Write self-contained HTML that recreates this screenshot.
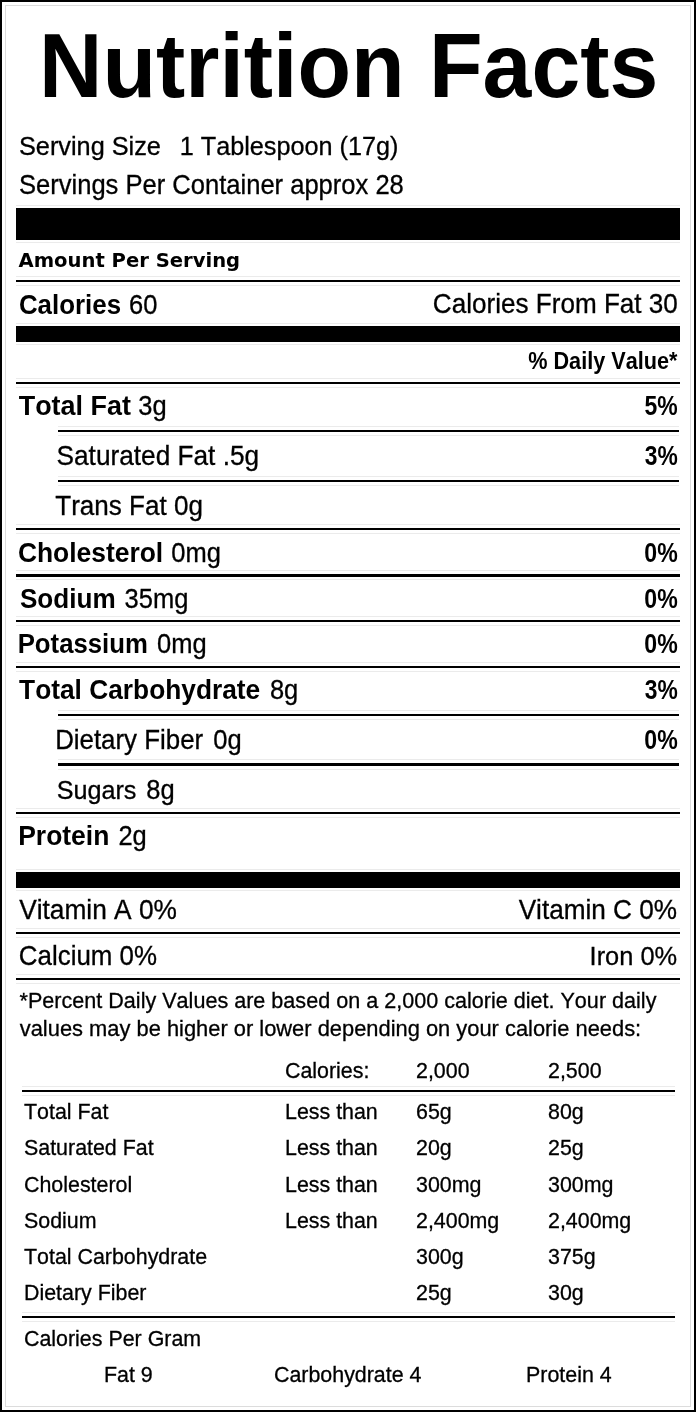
<!DOCTYPE html><html><head><meta charset="utf-8"><title>Nutrition Facts</title><style>
html,body{margin:0;padding:0;background:#fff}
#l{position:relative;width:700px;height:1412px;overflow:hidden;background:#fff;color:#000;font-family:"Liberation Sans", Arial, Helvetica, sans-serif}
#l div{position:absolute;white-space:pre;line-height:1;font-kerning:none;-webkit-text-stroke:0.3px #000}
#l div.b{font-weight:bold;-webkit-text-stroke:0}
#l div.v{font-family:"DejaVu Sans", Verdana, sans-serif}
#l i{position:absolute;display:block}
</style></head><body><div id="l">
<i style="left:5px;top:5px;width:686px;height:1px;background:#dcdcdc"></i>
<i style="left:5px;top:5px;width:1px;height:1402px;background:#dcdcdc"></i>
<i style="left:690px;top:5px;width:1px;height:1402px;background:#dcdcdc"></i>
<i style="left:5px;top:1406px;width:686px;height:1px;background:#dcdcdc"></i>
<i style="left:15.8px;top:276px;width:664.2px;height:1px;background:#ebebeb"></i>
<i style="left:15.8px;top:285.2px;width:664.2px;height:1px;background:#ebebeb"></i>
<i style="left:15.8px;top:378px;width:664.2px;height:1px;background:#ebebeb"></i>
<i style="left:15.8px;top:387.2px;width:664.2px;height:1px;background:#ebebeb"></i>
<i style="left:15.8px;top:523.9px;width:664.2px;height:1px;background:#ebebeb"></i>
<i style="left:15.8px;top:533.1px;width:664.2px;height:1px;background:#ebebeb"></i>
<i style="left:15.8px;top:570.2px;width:664.2px;height:1px;background:#ebebeb"></i>
<i style="left:15.8px;top:579.4px;width:664.2px;height:1px;background:#ebebeb"></i>
<i style="left:15.8px;top:615.8px;width:664.2px;height:1px;background:#ebebeb"></i>
<i style="left:15.8px;top:625px;width:664.2px;height:1px;background:#ebebeb"></i>
<i style="left:15.8px;top:662px;width:664.2px;height:1px;background:#ebebeb"></i>
<i style="left:15.8px;top:671.2px;width:664.2px;height:1px;background:#ebebeb"></i>
<i style="left:15.8px;top:807.9px;width:664.2px;height:1px;background:#ebebeb"></i>
<i style="left:15.8px;top:817.1px;width:664.2px;height:1px;background:#ebebeb"></i>
<i style="left:15.8px;top:927.9px;width:664.2px;height:1px;background:#ebebeb"></i>
<i style="left:15.8px;top:937.1px;width:664.2px;height:1px;background:#ebebeb"></i>
<i style="left:15.8px;top:974px;width:664.2px;height:1px;background:#ebebeb"></i>
<i style="left:15.8px;top:983.2px;width:664.2px;height:1px;background:#ebebeb"></i>
<i style="left:57.5px;top:425.9px;width:621.5px;height:1px;background:#ebebeb"></i>
<i style="left:57.5px;top:435.1px;width:621.5px;height:1px;background:#ebebeb"></i>
<i style="left:57.5px;top:475.9px;width:621.5px;height:1px;background:#ebebeb"></i>
<i style="left:57.5px;top:485.1px;width:621.5px;height:1px;background:#ebebeb"></i>
<i style="left:57.5px;top:709.9px;width:621.5px;height:1px;background:#ebebeb"></i>
<i style="left:57.5px;top:719.1px;width:621.5px;height:1px;background:#ebebeb"></i>
<i style="left:57.5px;top:759.4px;width:621.5px;height:1px;background:#ebebeb"></i>
<i style="left:57.5px;top:768.6px;width:621.5px;height:1px;background:#ebebeb"></i>
<i style="left:21.5px;top:1086.3px;width:653.7px;height:1px;background:#ebebeb"></i>
<i style="left:21.5px;top:1094.5px;width:653.7px;height:1px;background:#ebebeb"></i>
<i style="left:21.5px;top:1312.4px;width:653.7px;height:1px;background:#ebebeb"></i>
<i style="left:21.5px;top:1320.6px;width:653.7px;height:1px;background:#ebebeb"></i>
<i style="left:15.8px;top:204.9px;width:664.2px;height:1px;background:#ebebeb"></i>
<i style="left:15.8px;top:242.2px;width:664.2px;height:1px;background:#ebebeb"></i>
<i style="left:15.8px;top:323px;width:664.2px;height:1px;background:#ebebeb"></i>
<i style="left:15.8px;top:344.4px;width:664.2px;height:1px;background:#ebebeb"></i>
<i style="left:15.8px;top:869.1px;width:664.2px;height:1px;background:#ebebeb"></i>
<i style="left:15.8px;top:890.4px;width:664.2px;height:1px;background:#ebebeb"></i>
<i style="left:0px;top:0px;width:696px;height:2px;background:#000"></i>
<i style="left:0px;top:0px;width:2px;height:1412px;background:#000"></i>
<i style="left:694px;top:0px;width:2px;height:1412px;background:#000"></i>
<i style="left:0px;top:1409.7px;width:696px;height:2.3px;background:#000"></i>
<i style="left:15.8px;top:207.9px;width:664.2px;height:31.8px;background:#000"></i>
<i style="left:15.8px;top:326px;width:664.2px;height:15.9px;background:#000"></i>
<i style="left:15.8px;top:872.1px;width:664.2px;height:15.8px;background:#000"></i>
<i style="left:15.8px;top:279.7px;width:664.2px;height:2.8px;background:#000"></i>
<i style="left:15.8px;top:381.7px;width:664.2px;height:2.8px;background:#000"></i>
<i style="left:15.8px;top:527.6px;width:664.2px;height:2.8px;background:#000"></i>
<i style="left:15.8px;top:573.9px;width:664.2px;height:2.8px;background:#000"></i>
<i style="left:15.8px;top:619.5px;width:664.2px;height:2.8px;background:#000"></i>
<i style="left:15.8px;top:665.7px;width:664.2px;height:2.8px;background:#000"></i>
<i style="left:15.8px;top:811.6px;width:664.2px;height:2.8px;background:#000"></i>
<i style="left:15.8px;top:931.6px;width:664.2px;height:2.8px;background:#000"></i>
<i style="left:15.8px;top:977.7px;width:664.2px;height:2.8px;background:#000"></i>
<i style="left:57.5px;top:429.6px;width:621.5px;height:2.8px;background:#000"></i>
<i style="left:57.5px;top:479.6px;width:621.5px;height:2.8px;background:#000"></i>
<i style="left:57.5px;top:713.6px;width:621.5px;height:2.8px;background:#000"></i>
<i style="left:57.5px;top:763.1px;width:621.5px;height:2.8px;background:#000"></i>
<i style="left:21.5px;top:1089.5px;width:653.7px;height:2.8px;background:#000"></i>
<i style="left:21.5px;top:1315.6px;width:653.7px;height:2.8px;background:#000"></i>
<div class="b" style="left:39.10px;top:24.41px;font-size:87.75px;transform:scaleY(1.045);transform-origin:0 72.99px;font-kerning:auto;">Nutrition Facts</div>
<div style="left:19.00px;top:134.00px;font-size:25.29px;transform:scaleY(1.05);transform-origin:0 21.00px;">Serving Size</div>
<div style="left:179.73px;top:134.01px;font-size:25.22px;transform:scaleY(1.05);transform-origin:0 20.99px;">1 Tablespoon (17g)</div>
<div style="left:18.99px;top:173.10px;font-size:25.56px;transform:scaleY(1.05);transform-origin:0 21.00px;">Servings Per Container approx 28</div>
<div class="b v" style="left:18.50px;top:251.10px;font-size:19.59px;transform:scaleY(1.035);transform-origin:0 16.00px;">Amount Per Serving</div>
<div class="b" style="left:18.94px;top:292.72px;font-size:25.88px;transform:scaleY(1.05);transform-origin:0 20.98px;">Calories</div>
<div style="left:129.12px;top:292.72px;font-size:25.5px;transform:scaleY(1.09);transform-origin:0 20.98px;">60</div>
<div style="left:432.82px;top:291.31px;font-size:26.1px;transform:scaleY(1.05);transform-origin:0 21.99px;">Calories From Fat 30</div>
<div class="b" style="left:528.21px;top:351.31px;font-size:21.66px;transform:scaleY(1.09);transform-origin:0 17.99px;">% Daily Value*</div>
<div class="b" style="left:18.70px;top:393.41px;font-size:26.94px;transform:scaleY(1.05);transform-origin:0 21.99px;">Total Fat</div>
<div style="left:138.30px;top:394.40px;font-size:25.5px;transform:scaleY(1.05);transform-origin:0 21.00px;">3g</div>
<div class="b" style="left:644.49px;top:396.41px;font-size:22.98px;transform:scaleY(1.17);transform-origin:0 18.99px;">5%</div>
<div style="left:56.56px;top:443.40px;font-size:26.23px;transform:scaleY(1.05);transform-origin:0 22.00px;">Saturated Fat .5g</div>
<div class="b" style="left:644.68px;top:446.41px;font-size:22.85px;transform:scaleY(1.17);transform-origin:0 18.99px;">3%</div>
<div style="left:55.26px;top:493.41px;font-size:26.05px;transform:scaleY(1.05);transform-origin:0 21.99px;">Trans Fat 0g</div>
<div class="b" style="left:17.92px;top:539.60px;font-size:26.42px;transform:scaleY(1.05);transform-origin:0 22.00px;">Cholesterol</div>
<div style="left:171.22px;top:540.61px;font-size:25.5px;transform:scaleY(1.05);transform-origin:0 20.99px;">0mg</div>
<div class="b" style="left:644.29px;top:542.61px;font-size:23.13px;transform:scaleY(1.17);transform-origin:0 18.99px;">0%</div>
<div class="b" style="left:19.95px;top:585.61px;font-size:26.12px;transform:scaleY(1.05);transform-origin:0 21.99px;">Sodium</div>
<div style="left:124.59px;top:586.61px;font-size:25.5px;transform:scaleY(1.05);transform-origin:0 20.99px;">35mg</div>
<div class="b" style="left:644.29px;top:588.61px;font-size:23.13px;transform:scaleY(1.17);transform-origin:0 18.99px;">0%</div>
<div class="b" style="left:17.68px;top:632.32px;font-size:25.75px;transform:scaleY(1.05);transform-origin:0 20.98px;">Potassium</div>
<div style="left:156.97px;top:632.31px;font-size:25.5px;transform:scaleY(1.05);transform-origin:0 20.99px;">0mg</div>
<div class="b" style="left:644.29px;top:634.31px;font-size:23.13px;transform:scaleY(1.17);transform-origin:0 18.99px;">0%</div>
<div class="b" style="left:19.10px;top:677.30px;font-size:26.31px;transform:scaleY(1.05);transform-origin:0 22.00px;">Total Carbohydrate</div>
<div style="left:269.94px;top:678.31px;font-size:25.5px;transform:scaleY(1.05);transform-origin:0 20.99px;">8g</div>
<div class="b" style="left:644.68px;top:680.31px;font-size:22.85px;transform:scaleY(1.17);transform-origin:0 18.99px;">3%</div>
<div style="left:55.13px;top:728.31px;font-size:25.87px;transform:scaleY(1.05);transform-origin:0 20.99px;">Dietary Fiber</div>
<div style="left:213.24px;top:728.31px;font-size:25.5px;transform:scaleY(1.05);transform-origin:0 20.99px;">0g</div>
<div class="b" style="left:644.29px;top:730.31px;font-size:23.13px;transform:scaleY(1.17);transform-origin:0 18.99px;">0%</div>
<div style="left:56.71px;top:778.31px;font-size:25.17px;transform:scaleY(1.05);transform-origin:0 20.99px;">Sugars</div>
<div style="left:146.34px;top:778.31px;font-size:25.5px;transform:scaleY(1.05);transform-origin:0 20.99px;">8g</div>
<div class="b" style="left:18.23px;top:823.40px;font-size:26.45px;transform:scaleY(1.05);transform-origin:0 22.00px;">Protein</div>
<div style="left:118.45px;top:824.40px;font-size:25.5px;transform:scaleY(1.05);transform-origin:0 21.00px;">2g</div>
<div style="left:19.13px;top:897.01px;font-size:26.31px;transform:scaleY(1.05);transform-origin:0 21.99px;">Vitamin A 0%</div>
<div style="left:518.63px;top:897.01px;font-size:26.17px;transform:scaleY(1.05);transform-origin:0 21.99px;">Vitamin C 0%</div>
<div style="left:18.83px;top:943.71px;font-size:25.91px;transform:scaleY(1.05);transform-origin:0 20.99px;">Calcium 0%</div>
<div style="left:589.61px;top:943.71px;font-size:25.4px;transform:scaleY(1.05);transform-origin:0 20.99px;">Iron 0%</div>
<div style="left:19.50px;top:990.11px;font-size:21.58px;transform:scaleY(1.03);transform-origin:0 17.99px;">*Percent Daily Values are based on a 2,000 calorie diet. Your daily</div>
<div style="left:19.78px;top:1018.22px;font-size:21.88px;transform:scaleY(1.03);transform-origin:0 17.98px;">values may be higher or lower depending on your calorie needs:</div>
<div style="left:285.00px;top:1061.30px;font-size:21.4px;transform:scaleY(1.03);transform-origin:0 17.00px;">Calories:</div>
<div style="left:416.00px;top:1061.30px;font-size:21.4px;transform:scaleY(1.03);transform-origin:0 17.00px;">2,000</div>
<div style="left:548.00px;top:1061.30px;font-size:21.4px;transform:scaleY(1.03);transform-origin:0 17.00px;">2,500</div>
<div style="left:24.00px;top:1102.22px;font-size:21.4px;transform:scaleY(1.03);transform-origin:0 16.98px;">Total Fat</div>
<div style="left:285.00px;top:1102.22px;font-size:21.4px;transform:scaleY(1.03);transform-origin:0 16.98px;">Less than</div>
<div style="left:416.00px;top:1102.22px;font-size:21.4px;transform:scaleY(1.03);transform-origin:0 16.98px;">65g</div>
<div style="left:548.00px;top:1102.22px;font-size:21.4px;transform:scaleY(1.03);transform-origin:0 16.98px;">80g</div>
<div style="left:24.00px;top:1138.30px;font-size:21.4px;transform:scaleY(1.03);transform-origin:0 17.00px;">Saturated Fat</div>
<div style="left:285.00px;top:1138.30px;font-size:21.4px;transform:scaleY(1.03);transform-origin:0 17.00px;">Less than</div>
<div style="left:416.00px;top:1138.30px;font-size:21.4px;transform:scaleY(1.03);transform-origin:0 17.00px;">20g</div>
<div style="left:548.00px;top:1138.30px;font-size:21.4px;transform:scaleY(1.03);transform-origin:0 17.00px;">25g</div>
<div style="left:24.00px;top:1175.01px;font-size:21.4px;transform:scaleY(1.03);transform-origin:0 16.99px;">Cholesterol</div>
<div style="left:285.00px;top:1175.01px;font-size:21.4px;transform:scaleY(1.03);transform-origin:0 16.99px;">Less than</div>
<div style="left:416.00px;top:1175.01px;font-size:21.4px;transform:scaleY(1.03);transform-origin:0 16.99px;">300mg</div>
<div style="left:548.00px;top:1175.01px;font-size:21.4px;transform:scaleY(1.03);transform-origin:0 16.99px;">300mg</div>
<div style="left:24.00px;top:1211.01px;font-size:21.4px;transform:scaleY(1.03);transform-origin:0 16.99px;">Sodium</div>
<div style="left:285.00px;top:1211.01px;font-size:21.4px;transform:scaleY(1.03);transform-origin:0 16.99px;">Less than</div>
<div style="left:416.00px;top:1211.01px;font-size:21.4px;transform:scaleY(1.03);transform-origin:0 16.99px;">2,400mg</div>
<div style="left:548.00px;top:1211.01px;font-size:21.4px;transform:scaleY(1.03);transform-origin:0 16.99px;">2,400mg</div>
<div style="left:24.00px;top:1247.22px;font-size:21.4px;transform:scaleY(1.03);transform-origin:0 16.98px;">Total Carbohydrate</div>
<div style="left:416.00px;top:1247.22px;font-size:21.4px;transform:scaleY(1.03);transform-origin:0 16.98px;">300g</div>
<div style="left:548.00px;top:1247.22px;font-size:21.4px;transform:scaleY(1.03);transform-origin:0 16.98px;">375g</div>
<div style="left:24.00px;top:1283.22px;font-size:21.4px;transform:scaleY(1.03);transform-origin:0 16.98px;">Dietary Fiber</div>
<div style="left:416.00px;top:1283.22px;font-size:21.4px;transform:scaleY(1.03);transform-origin:0 16.98px;">25g</div>
<div style="left:548.00px;top:1283.22px;font-size:21.4px;transform:scaleY(1.03);transform-origin:0 16.98px;">30g</div>
<div style="left:24.00px;top:1329.10px;font-size:21.4px;transform:scaleY(1.03);transform-origin:0 17.00px;">Calories Per Gram</div>
<div style="left:104.00px;top:1364.60px;font-size:21.4px;transform:scaleY(1.03);transform-origin:0 17.00px;">Fat 9</div>
<div style="left:274.00px;top:1364.60px;font-size:21.4px;transform:scaleY(1.03);transform-origin:0 17.00px;">Carbohydrate 4</div>
<div style="left:526.00px;top:1364.60px;font-size:21.4px;transform:scaleY(1.03);transform-origin:0 17.00px;">Protein 4</div>
</div></body></html>
